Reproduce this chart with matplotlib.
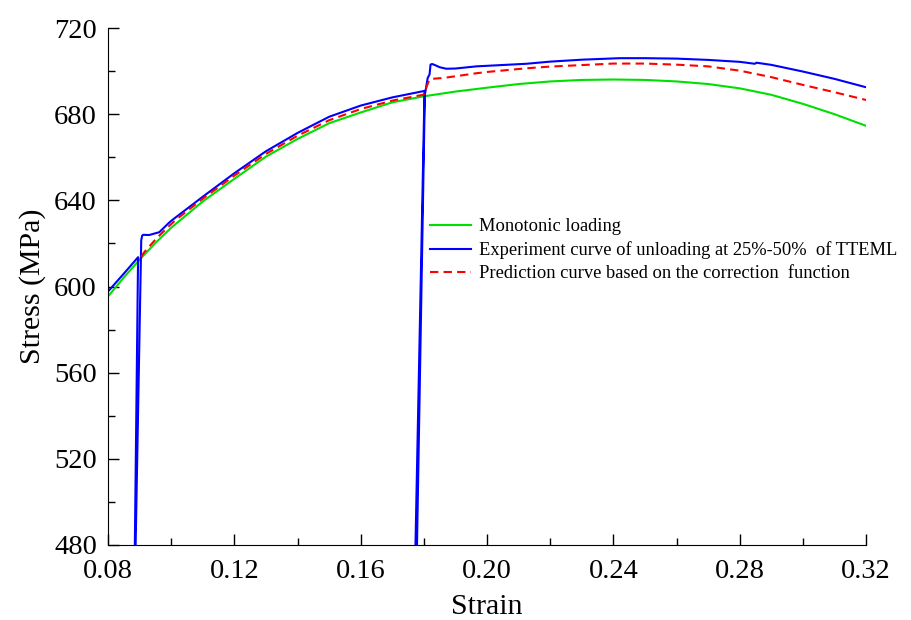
import numpy as np
import matplotlib
matplotlib.use('Agg')
import matplotlib.pyplot as plt
from matplotlib.ticker import MultipleLocator

plt.rcParams['font.family'] = 'Liberation Serif'

# monotonic tensile curve
strain_mono = [0.08, 0.085, 0.09, 0.095, 0.10, 0.11, 0.12, 0.13, 0.14, 0.15,
               0.16, 0.17, 0.18, 0.19, 0.20, 0.21, 0.22, 0.23, 0.24, 0.25,
               0.26, 0.27, 0.28, 0.29, 0.30, 0.31, 0.32]
stress_mono = [595.4, 604.2, 612.5, 620.2, 627.3, 639.5, 650.0, 660.3, 668.5, 675.8,
               680.8, 685.5, 688.3, 690.5, 692.3, 694.0, 695.2, 695.9, 696.1, 695.9,
               695.2, 694.0, 692.0, 689.0, 684.8, 680.0, 674.6]

# experiment with two unloading/reloading cycles
strain_exp = [0.08, 0.085, 0.0895, 0.0884, 0.0886, 0.0905, 0.0908, 0.0911, 0.093,
              0.0962, 0.0993, 0.10, 0.11, 0.12, 0.13, 0.14, 0.15, 0.16, 0.17, 0.1802,
              0.1772, 0.1777, 0.1803, 0.1812, 0.1818, 0.1821, 0.1826, 0.1835, 0.185,
              0.1871, 0.19, 0.1966, 0.2124, 0.22, 0.23, 0.242, 0.25, 0.26, 0.27,
              0.28, 0.2848, 0.2853, 0.29, 0.30, 0.31, 0.32]
stress_exp = [597.7, 606.0, 613.6, 470.0, 470.0, 621.5, 623.6, 624.0, 623.9,
              625.2, 629.6, 630.5, 641.7, 652.6, 662.8, 671.3, 678.8, 684.0, 687.8, 690.8,
              470.0, 470.0, 689.0, 696.8, 698.5, 703.0, 703.3, 702.8, 701.8,
              701.1, 701.2, 702.2, 703.4, 704.4, 705.3, 706.0, 706.0, 705.8, 705.2,
              704.3, 703.4, 703.9, 702.9, 699.8, 696.4, 692.5]

# prediction from the correction function
strain_pred = [0.0905, 0.0915, 0.0927, 0.095, 0.0975, 0.10, 0.1015, 0.11, 0.12, 0.13,
               0.14, 0.15, 0.16, 0.17, 0.1797, 0.1802, 0.1808, 0.1814, 0.1818, 0.1825,
               0.186, 0.19, 0.1966, 0.20, 0.2124, 0.22, 0.23, 0.24, 0.25, 0.26,
               0.27, 0.28, 0.29, 0.30, 0.31, 0.32]
stress_pred = [613.8, 616.0, 618.0, 621.8, 625.5, 629.0, 631.0, 640.8, 651.5, 661.6,
               670.0, 677.2, 682.4, 686.3, 689.0, 689.5, 692.5, 694.8, 696.0, 696.4,
               696.8, 697.6, 699.0, 699.6, 701.3, 702.1, 702.8, 703.5, 703.5, 703.0,
               702.2, 700.2, 697.2, 693.6, 690.2, 686.6]

labels = ['Monotonic loading',
          'Experiment curve of unloading at 25%-50%  of TTEML',
          'Prediction curve based on the correction  function']

fig = plt.figure(figsize=(9.12, 6.2), dpi=100)
ax = fig.add_axes([0.1185, 0.1210, 0.8311, 0.8338])

ax.plot(strain_mono, stress_mono, color='#00E000', lw=1.5, label=labels[0])
ax.plot(strain_exp, stress_exp, color='#0000FF', lw=1.5, label=labels[1])
ax.plot(strain_pred, stress_pred, color='#FF0000', lw=1.5, dashes=(4, 2.5), label=labels[2])

ax.set_xlim(0.08, 0.32)
ax.set_ylim(480, 720)
ax.xaxis.set_major_locator(MultipleLocator(0.04))
ax.xaxis.set_minor_locator(MultipleLocator(0.02))
ax.yaxis.set_major_locator(MultipleLocator(40))
ax.yaxis.set_minor_locator(MultipleLocator(20))
ax.xaxis.set_major_formatter(matplotlib.ticker.FormatStrFormatter('%.2f'))

ax.spines['top'].set_visible(False)
ax.spines['right'].set_visible(False)
ax.tick_params(which='both', direction='in', labelsize=20.5, width=1)
ax.tick_params(which='major', length=8)
ax.tick_params(which='minor', length=5)
ax.tick_params(axis='x', which='major', pad=10)
ax.tick_params(axis='y', which='major', pad=8)

ax.set_xlabel('Strain', fontsize=21.5, labelpad=7)
ax.set_ylabel('Stress (MPa)', fontsize=21.5, labelpad=6)

ax.legend(loc='upper left', bbox_to_anchor=(0.415, 0.646), frameon=False, fontsize=13.3,
          handlelength=2.2, handletextpad=0.45, labelspacing=0.32, borderaxespad=0)

fig.savefig('out.png', dpi=100)
